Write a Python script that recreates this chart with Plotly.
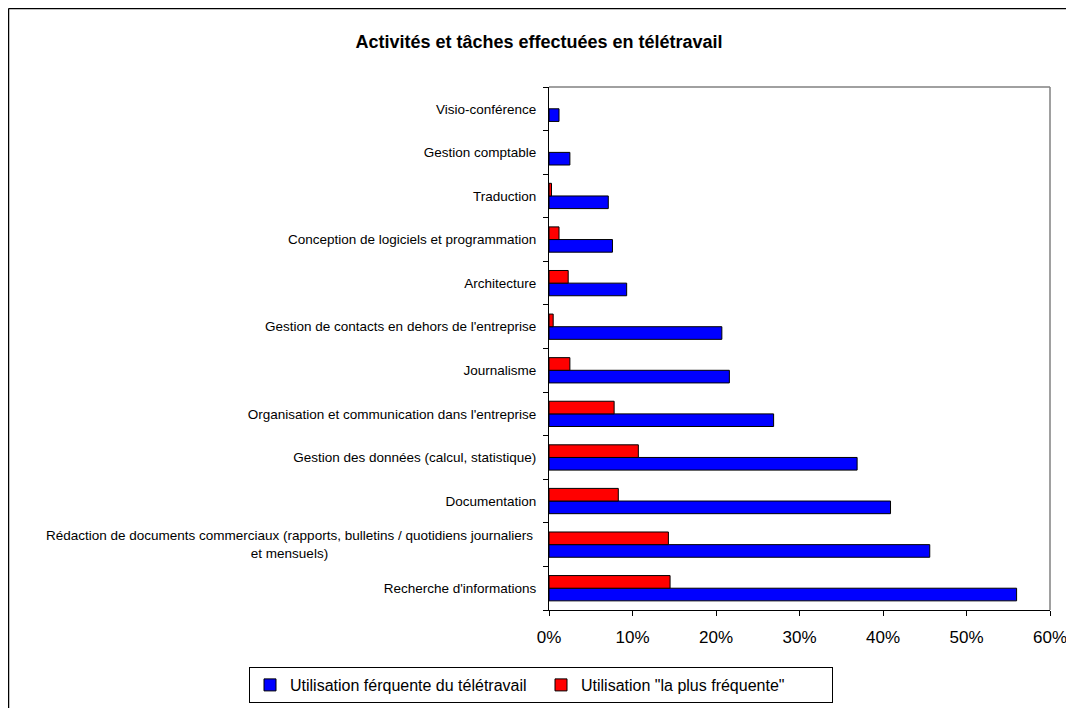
import plotly.graph_objects as go

# Categories listed from bottom to top
categories = [
    "Recherche d'informations",
    "Rédaction de documents commerciaux",
    "Documentation",
    "Gestion des données (calcul, statistique)",
    "Organisation et communication dans l'entreprise",
    "Journalisme",
    "Gestion de contacts en dehors de l'entreprise",
    "Architecture",
    "Conception de logiciels et programmation",
    "Traduction",
    "Gestion comptable",
    "Visio-conférence",
]
long_label = "Rédaction de documents commerciaux (rapports, bulletins / quotidiens journaliers<br>et mensuels)"

frequente = [0.560, 0.456, 0.409, 0.369, 0.269, 0.216, 0.207, 0.093, 0.076, 0.071, 0.025, 0.012]
plus_frequente = [0.145, 0.143, 0.083, 0.107, 0.078, 0.025, 0.005, 0.023, 0.012, 0.003, None, None]

series_names = ["Utilisation férquente du télétravail", 'Utilisation "la plus fréquente"']
x_ticks = [0, 0.1, 0.2, 0.3, 0.4, 0.5, 0.6]
x_ticklabels = ["0%", "10%", "20%", "30%", "40%", "50%", "60%"]

FONT = "Liberation Sans, Arial, sans-serif"
W, H = 1074, 708
OFF = 8  # page body margin
L, R, T, B = 549 - OFF, 1050 - OFF, 87 - OFF, 610 - OFF

fig = go.Figure()
fig.add_trace(go.Bar(
    y=categories, x=frequente, orientation="h", name=series_names[0],
    marker=dict(color="#0000FF", line=dict(color="black", width=1)),
))
fig.add_trace(go.Bar(
    y=categories, x=plus_frequente, orientation="h", name=series_names[1],
    marker=dict(color="#FF0000", line=dict(color="black", width=1)),
))

ticktext = [("" if c == "Rédaction de documents commerciaux" else c) for c in categories]

px_x = lambda p: (p - OFF - L) / (R - L)
px_y = lambda p: (B - (p - OFF)) / (B - T)

fig.update_layout(
    width=W, height=H,
    margin=dict(l=L, r=W - R, t=T, b=H - B, pad=0, autoexpand=False),
    paper_bgcolor="white", plot_bgcolor="white",
    barmode="group", bargap=0.42, bargroupgap=0,
    font=dict(family=FONT, color="black", size=13),
    title=dict(
        text="<b>Activités et tâches effectuées en télétravail</b>",
        x=(539 - OFF) / W, xanchor="center", y=1 - (42 - OFF) / H, yanchor="middle",
        font=dict(family=FONT, size=18, color="black"),
    ),
    showlegend=True,
    legend=dict(
        orientation="h", x=px_x(249), xanchor="left",
        y=px_y(667), yanchor="top",
        bordercolor="black", borderwidth=1, bgcolor="white",
        font=dict(family=FONT, size=16, color="black"),
        itemwidth=30, entrywidth=246, traceorder="normal",
    ),
    xaxis=dict(
        range=[0, 0.6], tickvals=x_ticks, ticktext=x_ticklabels,
        showgrid=False, zeroline=False, automargin=False,
        showline=True, linecolor="black", linewidth=1,
        ticks="outside", ticklen=5, tickcolor="black", tickwidth=1,
        tickfont=dict(family=FONT, size=17, color="black"),
        ticklabelstandoff=7, fixedrange=True,
    ),
    yaxis=dict(
        categoryorder="array", categoryarray=categories,
        tickvals=categories, ticktext=ticktext,
        showgrid=False, zeroline=False, automargin=False,
        showline=True, linecolor="black", linewidth=1,
        ticks="outside", ticklen=5, tickcolor="black", tickwidth=1,
        tickson="boundaries",
        tickfont=dict(family=FONT, size=13.5, color="black"),
        ticklabelstandoff=9, fixedrange=True,
    ),
)

# multi-line centered label for the long category
fig.add_annotation(
    x=0, xref="paper", y="Rédaction de documents commerciaux", yref="y",
    text=long_label, showarrow=False, xanchor="right", xshift=-14,
    align="center", font=dict(family=FONT, size=13.5, color="black"),
)

# plot-area border (grey top/right)
fig.add_shape(type="line", xref="paper", yref="paper", x0=0, x1=1, y0=1, y1=1,
              line=dict(color="#808080", width=1.5))
fig.add_shape(type="line", xref="paper", yref="paper", x0=1, x1=1, y0=0, y1=1,
              line=dict(color="#808080", width=1.5))

# outer chart border (left and top visible)
fig.add_shape(type="line", xref="paper", yref="paper", x0=px_x(8.5), x1=px_x(1200), y0=px_y(8.5), y1=px_y(8.5),
              line=dict(color="black", width=1.5))
fig.add_shape(type="line", xref="paper", yref="paper", x0=px_x(8.5), x1=px_x(8.5), y0=px_y(8.5), y1=px_y(800),
              line=dict(color="black", width=1.5))

fig.write_html("out.html")
